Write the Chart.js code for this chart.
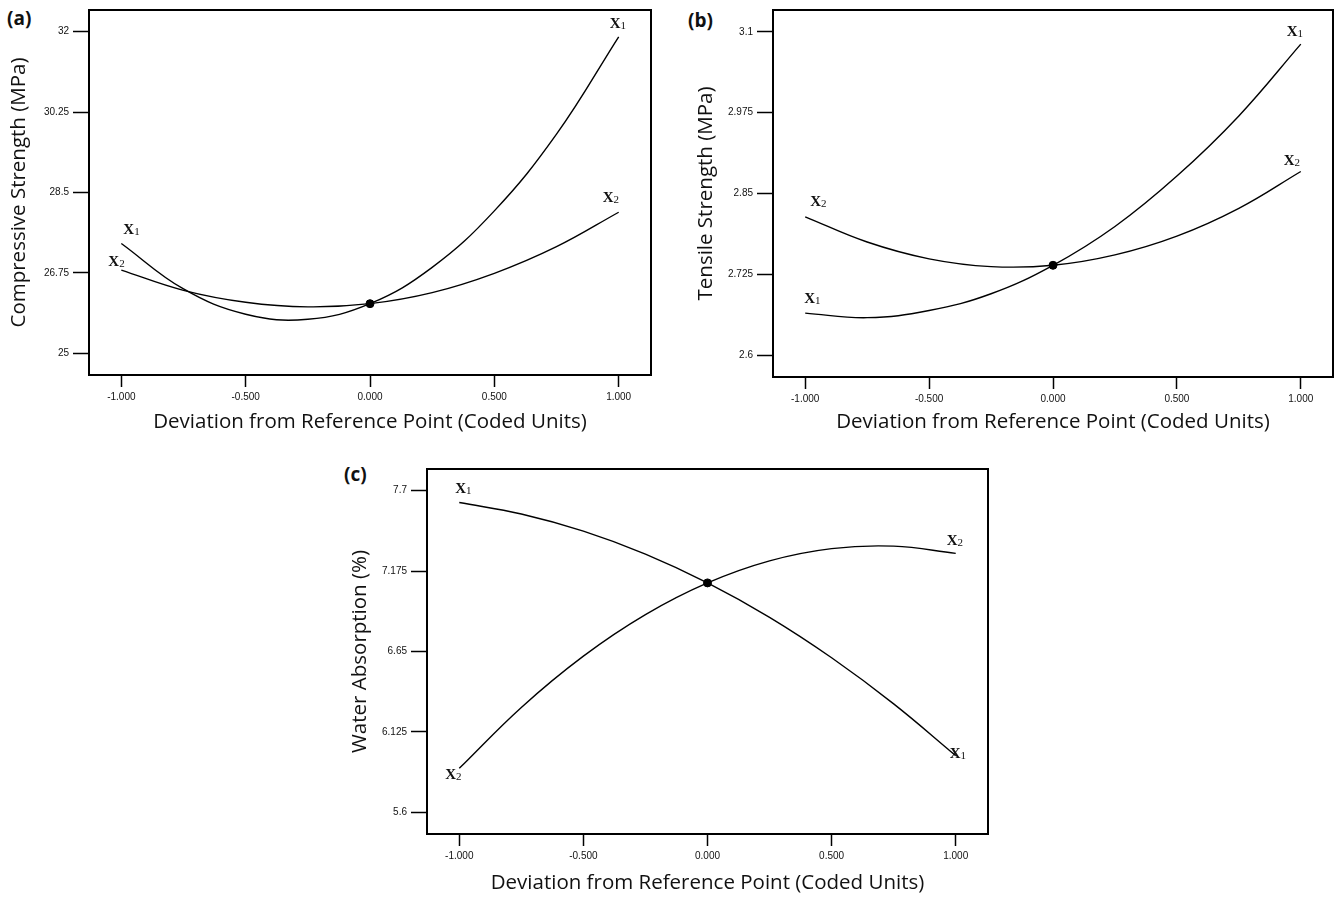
<!DOCTYPE html>
<html>
<head>
<meta charset="utf-8">
<script src="https://cdn.jsdelivr.net/npm/chart.js@4.4.0/dist/chart.umd.min.js"></script>
<style>
  body { margin: 0; background: #fff; width: 1340px; height: 897px; position: relative; overflow: hidden; }
  canvas { position: absolute; }
  .tag { position: absolute; font: bold 19px "Open Sans", sans-serif; color: #111; line-height: 1; }
</style>
</head>
<body>
<div class="tag" style="left:7px;top:9px">(a)</div>
<div class="tag" style="left:688px;top:11px">(b)</div>
<div class="tag" style="left:344px;top:465px">(c)</div>
<canvas id="chartA" width="665" height="440" style="left:0;top:0"></canvas>
<canvas id="chartB" width="656" height="440" style="left:684px;top:0"></canvas>
<canvas id="chartC" width="664" height="438" style="left:338px;top:459px"></canvas>
<script>
// deviation from reference point (coded units)
const xPoints = [-1, -0.75, -0.5, -0.25, 0, 0.25, 0.5, 0.75, 1];
const xTickValues = [-1, -0.5, 0, 0.5, 1];
const xTickLabels = ['-1.000', '-0.500', '0.000', '0.500', '1.000'];

// (a) compressive strength
const compX1 = [27.39, 26.40, 25.85, 25.74, 26.08, 26.87, 28.10, 29.77, 31.89];
const compX2 = [26.81, 26.37, 26.11, 26.01, 26.08, 26.32, 26.74, 27.32, 28.07];
const compTicks = ['25', '26.75', '28.5', '30.25', '32'];

// (b) tensile strength
const tensX1 = [2.665, 2.658, 2.669, 2.695, 2.739, 2.799, 2.877, 2.970, 3.081];
const tensX2 = [2.814, 2.775, 2.749, 2.737, 2.739, 2.755, 2.784, 2.827, 2.884];
const tensTicks = ['2.6', '2.725', '2.85', '2.975', '3.1'];

// (c) water absorption
const waterX1 = [7.623, 7.548, 7.436, 7.286, 7.098, 6.873, 6.609, 6.308, 5.970];
const waterX2 = [5.887, 6.285, 6.620, 6.891, 7.098, 7.242, 7.322, 7.338, 7.291];
const waterTicks = ['5.6', '6.125', '6.65', '7.175', '7.7'];

const tickFont = { family: '"Liberation Sans", Arial, sans-serif', size: 10 };
const titleFont = { family: '"Open Sans", sans-serif', size: 20.5 };

// box round the plot and the X1 / X2 tags at the curve ends
const framePlugin = {
  id: 'frame',
  afterDraw(chart, args, opts) {
    const { ctx, chartArea: a, scales } = chart;
    ctx.save();
    ctx.strokeStyle = '#000';
    ctx.lineWidth = 2;
    ctx.strokeRect(a.left, a.top, a.right - a.left, a.bottom - a.top);
    (opts.tags || []).forEach(t => {
      const px = scales.x.getPixelForValue(t.x) + t.dx;
      const py = scales.y.getPixelForValue(t.y) + t.dy;
      ctx.fillStyle = '#111';
      ctx.textBaseline = 'middle';
      ctx.textAlign = 'left';
      ctx.font = 'bold 15px "Liberation Serif", "Times New Roman", serif';
      const w = ctx.measureText('X').width;
      ctx.fillText('X', px - 10, py);
      ctx.font = '11px "Liberation Serif", "Times New Roman", serif';
      ctx.fillText(t.name, px - 10 + w, py + 2);
    });
    ctx.restore();
  }
};

function makeChart(id, cfg) {
  const line = (vals) => ({
    data: xPoints.map((x, i) => ({ x: x, y: vals[i] })),
    borderColor: '#000',
    borderWidth: 1.4,
    pointRadius: 0,
    tension: 0.4,
    fill: false,
  });
  const yVals = cfg.yTicks.map(Number);
  const step = yVals[1] - yVals[0];
  return new Chart(document.getElementById(id), {
    type: 'line',
    data: {
      datasets: [
        line(cfg.x1),
        line(cfg.x2),
        {
          data: [{ x: 0, y: cfg.x1[4] }],
          pointRadius: 4,
          pointBackgroundColor: '#000',
          pointBorderColor: '#000',
          showLine: false,
        },
      ],
    },
    options: {
      responsive: false,
      animation: false,
      events: [],
      layout: { padding: cfg.pad },
      plugins: {
        legend: { display: false },
        tooltip: { enabled: false },
        frame: { tags: cfg.tags },
      },
      scales: {
        x: {
          type: 'linear',
          min: -1.13,
          max: 1.13,
          afterBuildTicks: (axis) => { axis.ticks = xTickValues.map(v => ({ value: v })); },
          afterFit: (axis) => { axis.height = cfg.xHeight; },
          ticks: {
            callback: (v, i) => xTickLabels[i],
            font: tickFont,
            color: '#111',
            padding: 4,
            maxRotation: 0,
            autoSkip: false,
          },
          grid: { drawOnChartArea: false, drawTicks: true, tickLength: 12, tickWidth: 1.5, color: '#000' },
          border: { display: false },
          title: { display: true, text: 'Deviation from Reference Point (Coded Units)', font: titleFont, color: '#111', padding: { top: 0, bottom: cfg.xTitlePad } },
        },
        y: {
          type: 'linear',
          min: yVals[0] - 0.27 * step,
          max: yVals[4] + 0.27 * step,
          afterBuildTicks: (axis) => { axis.ticks = yVals.map(v => ({ value: v })); },
          afterFit: (axis) => { axis.width = 89; },
          ticks: {
            callback: (v, i) => cfg.yTicks[i],
            font: tickFont,
            color: '#111',
            padding: 4,
            autoSkip: false,
          },
          grid: { drawOnChartArea: false, drawTicks: true, tickLength: 16, tickWidth: 1.5, color: '#000' },
          border: { display: false },
          title: { display: true, text: cfg.yTitle, font: titleFont, color: '#111', padding: { top: cfg.yTitlePad, bottom: 0 } },
        },
      },
    },
    plugins: [framePlugin],
  });
}

makeChart('chartA', {
  x1: compX1, x2: compX2, yTicks: compTicks,
  yTitle: 'Compressive Strength (MPa)',
  pad: { top: 6, right: 14, left: 0, bottom: 0 },
  xHeight: 65, xTitlePad: 6, yTitlePad: 7,
  tags: [
    { name: '1', x: -1, y: compX1[0], dx: 12, dy: -13 },
    { name: '2', x: -1, y: compX2[0], dx: -3, dy: -8 },
    { name: '1', x: 1, y: compX1[8], dx: 1, dy: -13 },
    { name: '2', x: 1, y: compX2[8], dx: -6, dy: -14 },
  ],
});

makeChart('chartB', {
  x1: tensX1, x2: tensX2, yTicks: tensTicks,
  yTitle: 'Tensile Strength (MPa)',
  pad: { top: 8, right: 7, left: 0, bottom: 0 },
  xHeight: 63, xTitlePad: 6, yTitlePad: 10,
  tags: [
    { name: '1', x: -1, y: tensX1[0], dx: 9, dy: -14 },
    { name: '2', x: -1, y: tensX2[0], dx: 15, dy: -15 },
    { name: '1', x: 1, y: tensX1[8], dx: -4, dy: -12 },
    { name: '2', x: 1, y: tensX2[8], dx: -7, dy: -10 },
  ],
});

makeChart('chartC', {
  x1: waterX1, x2: waterX2, yTicks: waterTicks,
  yTitle: 'Water Absorption (%)',
  pad: { top: 6, right: 14, left: 0, bottom: 0 },
  xHeight: 63, xTitlePad: 2, yTitlePad: 10,
  tags: [
    { name: '1', x: -1, y: waterX1[0], dx: 6, dy: -13 },
    { name: '2', x: -1, y: waterX2[0], dx: -4, dy: 7 },
    { name: '1', x: 1, y: waterX1[8], dx: 4, dy: -2 },
    { name: '2', x: 1, y: waterX2[8], dx: 1, dy: -12 },
  ],
});
</script>
</body>
</html>
